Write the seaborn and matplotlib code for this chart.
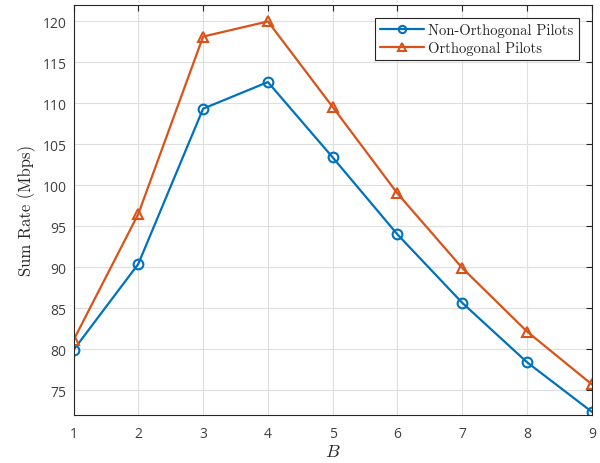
import matplotlib
matplotlib.use("Agg")
import matplotlib.pyplot as plt
import seaborn as sns
import pandas as pd

B = [1, 2, 3, 4, 5, 6, 7, 8, 9]
non_orth = [79.9, 90.4, 109.35, 112.6, 103.4, 94.0, 85.65, 78.4, 72.35]
orth = [81.1, 96.5, 118.15, 120.0, 109.55, 99.0, 89.9, 82.15, 75.7]
series_names = ["Non-Orthogonal Pilots", "Orthogonal Pilots"]
y_ticks = [75, 80, 85, 90, 95, 100, 105, 110, 115, 120]

df = pd.DataFrame({
    "B": B * 2,
    "rate": non_orth + orth,
    "series": [series_names[0]] * len(B) + [series_names[1]] * len(B),
})

sns.set_theme(style="white")
plt.rcParams["mathtext.fontset"] = "cm"
plt.rcParams["font.family"] = ["Open Sans", "DejaVu Sans"]

fig = plt.figure(figsize=(6.0, 4.64), dpi=100)
ax = fig.add_axes([0.1225, 0.104, 0.864, 0.883])

colors = ["#0072BD", "#D95319"]
palette = dict(zip(series_names, colors))
sns.lineplot(data=df, x="B", y="rate", hue="series", style="series",
             markers={series_names[0]: "o", series_names[1]: "^"},
             dashes=False, palette=palette, ax=ax, linewidth=1.6,
             markersize=7, legend=False)
for ln, c in zip(ax.lines, colors):
    ln.set_markerfacecolor("none")
    ln.set_markeredgecolor(c)
    ln.set_markeredgewidth(1.5)
    ln.set_linestyle("-")

ax.set_xlim(1, 9)
ax.set_ylim(72, 122)
ax.set_xticks(B)
ax.set_yticks(y_ticks)
ax.grid(True, color="#dfdfdf", linewidth=0.8)
ax.set_axisbelow(True)
ax.tick_params(direction="in", length=4, width=0.8, colors="#262626",
               labelcolor="#404040", labelsize=10, top=True, right=True,
               labeltop=False, labelright=False)
ax.tick_params(axis="x", pad=8)
ax.tick_params(axis="y", pad=5)
for s in ax.spines.values():
    s.set_color("#262626")
    s.set_linewidth(0.8)

ax.set_xlabel(r"$B$", fontsize=13, color="#262626", labelpad=1)
ax.set_ylabel("Sum Rate (Mbps)", fontsize=12, color="#262626", labelpad=5,
              fontfamily="cmr10")

leg = ax.legend(ax.lines[:2], series_names,
                loc="upper right", prop={"family": "cmr10", "size": 10.5},
                frameon=True, fancybox=False, markerscale=0.75,
                edgecolor="#262626", framealpha=1, borderpad=0.35, handlelength=3.0,
                labelspacing=0.25, borderaxespad=0.9, handletextpad=0.3)
leg.get_frame().set_linewidth(0.8)

fig.savefig("out.png", dpi=100)
